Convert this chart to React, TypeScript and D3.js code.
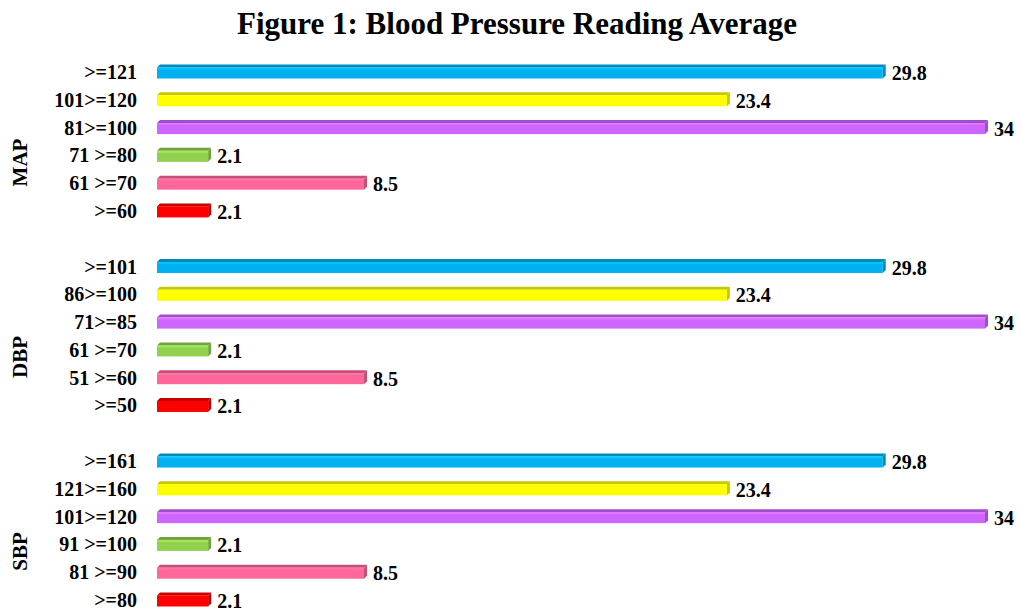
import React from 'react';
import * as d3 from 'd3';

const groups = ['MAP', 'DBP', 'SBP'];
const mapLabels = ['>=121', '101>=120', '81>=100', '71 >=80', '61 >=70', '>=60'];
const dbpLabels = ['>=101', '86>=100', '71>=85', '61 >=70', '51 >=60', '>=50'];
const sbpLabels = ['>=161', '121>=160', '101>=120', '91 >=100', '81 >=90', '>=80'];
const values = [29.8, 23.4, 34, 2.1, 8.5, 2.1];
const colors = ['#00B0F0', '#FFFF00', '#CC66FF', '#92D050', '#FF6699', '#FF0000'];

const W = 1021;
const H = 613;
const font = '"Liberation Serif", "Times New Roman", serif';

const App = () => {
  const labelSets = [mapLabels, dbpLabels, sbpLabels];
  // rows: 6 per group + one empty slot between groups
  const rows: { group: number; idx: number; label: string; value: number; color: string }[] = [];
  labelSets.forEach((labels, g) => {
    labels.forEach((label, i) => {
      rows.push({ group: g, idx: g * 7 + i, label, value: values[i], color: colors[i] });
    });
  });

  const y = d3.scaleLinear().domain([0, 19]).range([72, 600]);
  const x = d3.scaleLinear().domain([0, 34]).range([157, 985]);
  const barH = 11;
  const depth = 3;

  return (
    <svg width={W} height={H} style={{ position: 'absolute', left: 0, top: 0 }}>
      <rect width={W} height={H} fill="#fff" />
      <text x={517} y={34} textAnchor="middle" fontFamily={font} fontWeight="bold" fontSize={31}>
        Figure 1: Blood Pressure Reading Average
      </text>
      {groups.map((g, gi) => {
        const cy = (y(gi * 7) + y(gi * 7 + 5)) / 2 + 21;
        return (
          <text key={g} transform={`translate(27,${cy}) rotate(-90)`} textAnchor="middle"
            fontFamily={font} fontWeight="bold" fontSize={21}>{g}</text>
        );
      })}
      {rows.map((r, i) => {
        const cy = y(r.idx);
        const x0 = x(0);
        const x1 = x(r.value);
        const top = cy - barH / 2 + 1;
        const c = d3.color(r.color)!;
        const light = d3.color(r.color)!.brighter(0.5).toString();
        const dark = c.darker(0.7).toString();
        return (
          <g key={i}>
            <text x={137} y={cy + 7} textAnchor="end" fontFamily={font} fontWeight="bold" fontSize={20}>
              {r.label}
            </text>
            <polygon
              points={`${x0},${top} ${x0 + depth},${top - depth} ${x1 + depth},${top - depth} ${x1},${top}`}
              fill={dark}
            />
            <polygon
              points={`${x1},${top} ${x1 + depth},${top - depth} ${x1 + depth},${top + barH - depth} ${x1},${top + barH}`}
              fill={dark}
            />
            <rect x={x0} y={top} width={x1 - x0} height={barH} fill={r.color} />
            <rect x={x0} y={top} width={x1 - x0} height={2} fill={light} opacity={0.6} />
            <text x={x1 + 9} y={cy + 8} fontFamily={font} fontWeight="bold" fontSize={20}>
              {r.value}
            </text>
          </g>
        );
      })}
    </svg>
  );
};

export default App;
